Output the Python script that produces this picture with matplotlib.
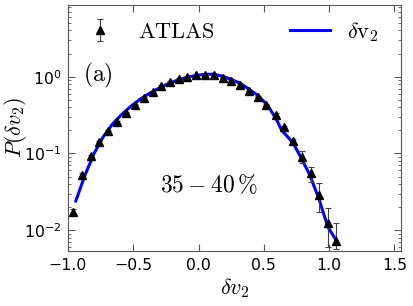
import matplotlib
matplotlib.use("Agg")
import matplotlib.pyplot as plt
from matplotlib.font_manager import FontProperties
import numpy as np

# ATLAS data points (delta v2, P) and errors
atlas_x = [-0.965, -0.893, -0.826, -0.760, -0.691, -0.622, -0.556, -0.490,
           -0.420, -0.350, -0.287, -0.220, -0.150, -0.085, -0.018, 0.050,
           0.120, 0.190, 0.250, 0.320, 0.386, 0.455, 0.520, 0.590, 0.656,
           0.720, 0.790, 0.860, 0.925, 0.990, 1.052]
atlas_y = [0.0174, 0.052, 0.092, 0.142, 0.198, 0.257, 0.340, 0.430,
           0.527, 0.630, 0.756, 0.853, 0.940, 1.000, 1.040, 1.060,
           1.040, 0.970, 0.890, 0.780, 0.660, 0.550, 0.430, 0.320, 0.220,
           0.146, 0.091, 0.055, 0.029, 0.0125, 0.0073]
atlas_err_lo = [0.0015, 0.003, 0.004, 0.005, 0.006, 0.007, 0.008, 0.010,
                0.012, 0.014, 0.016, 0.018, 0.020, 0.020, 0.020, 0.020,
                0.020, 0.020, 0.018, 0.016, 0.015, 0.014, 0.013, 0.012, 0.010,
                0.010, 0.016, 0.012, 0.012, 0.0065, 0.0017]
atlas_err_hi = [0.0015, 0.003, 0.004, 0.005, 0.006, 0.007, 0.008, 0.010,
                0.012, 0.014, 0.016, 0.018, 0.020, 0.020, 0.020, 0.020,
                0.020, 0.020, 0.018, 0.016, 0.015, 0.014, 0.013, 0.012, 0.010,
                0.010, 0.016, 0.012, 0.012, 0.0067, 0.0050]

# model curve
model_x = [-0.94, -0.87, -0.80, -0.73, -0.66, -0.59, -0.52, -0.45, -0.38,
           -0.31, -0.24, -0.17, -0.10, -0.03, 0.04, 0.11, 0.18, 0.25, 0.32,
           0.39, 0.46, 0.53, 0.60, 0.636, 0.72, 0.78, 0.85, 0.92, 0.99, 1.06]
model_y = [0.024, 0.052, 0.100, 0.165, 0.240, 0.320, 0.410, 0.505, 0.600,
           0.700, 0.800, 0.890, 0.970, 1.030, 1.070, 1.080, 1.020, 0.920,
           0.820, 0.680, 0.560, 0.420, 0.270, 0.200, 0.140, 0.091, 0.053,
           0.026, 0.011, 0.0071]

GREY = "0.35"
plt.rcParams.update({
    "font.size": 11.3,
    "xtick.direction": "in",
    "ytick.direction": "in",
    "xtick.top": True,
    "ytick.right": True,
    "xtick.major.size": 5,
    "ytick.major.size": 5,
    "ytick.minor.size": 2.5,
    "xtick.color": GREY,
    "ytick.color": GREY,
    "xtick.labelcolor": "black",
    "ytick.labelcolor": "black",
    "axes.edgecolor": GREY,
    "xtick.major.pad": 5.5,
    "ytick.major.pad": 5,
})

fig = plt.figure(figsize=(4.13, 3.06), dpi=100)
ax = fig.add_axes([0.1646, 0.1807, 0.8064, 0.803])

line, = ax.plot(model_x, model_y, color="#0000ff", lw=2.2, zorder=2,
                label=r"$\delta\mathrm{v}_2$")
eb = ax.errorbar(atlas_x, atlas_y, yerr=[atlas_err_lo, atlas_err_hi],
                 fmt="^", color="black", ms=6, ecolor="0.25", elinewidth=0.8,
                 capsize=2.5, capthick=0.8, zorder=3, label=r"$\mathrm{ATLAS}$")

ax.set_yscale("log")
ax.set_xlim(-1.0, 1.55)
ax.set_ylim(0.0054, 8.6)
ax.set_xticks([-1.0, -0.5, 0.0, 0.5, 1.0, 1.5])
ax.tick_params(axis="x", which="minor", bottom=False, top=False)

ax.set_xlabel(r"$\delta v_2$", fontsize=16, math_fontfamily="cm", labelpad=2)
ax.set_ylabel(r"$P(\delta v_2)$", fontsize=16, math_fontfamily="cm")
ax.yaxis.set_label_coords(-0.118, 0.5)

ax.text(0.045, 0.712, r"$\mathrm{(a)}$", transform=ax.transAxes, fontsize=17,
        math_fontfamily="cm", va="center", ha="left")
ax.text(0.277, 0.267, r"$35-40\,\%$", transform=ax.transAxes, fontsize=17,
        math_fontfamily="cm", va="center", ha="left")

leg_font = FontProperties(size=16, math_fontfamily="cm")
ax.legend(handles=[eb, line], loc="upper left", bbox_to_anchor=(0.036, 0.94),
          ncol=2, frameon=False, prop=leg_font, borderaxespad=0, borderpad=0,
          handlelength=1.8, handletextpad=0.8, columnspacing=3.4, numpoints=1)

fig.savefig("out.png", dpi=100)
